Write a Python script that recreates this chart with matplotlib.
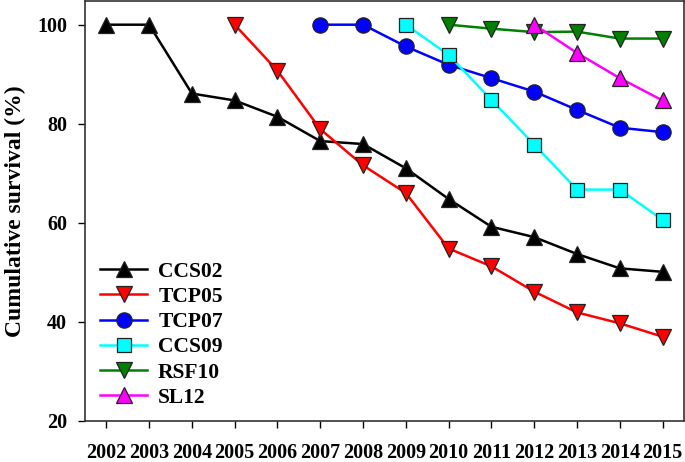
import numpy as np
import matplotlib.pyplot as plt

plt.rcParams['font.family'] = ['Liberation Serif', 'DejaVu Serif']
plt.rcParams['font.weight'] = 'bold'

# survival series (year, cumulative survival %)
years_ccs02 = [2002, 2003, 2004, 2005, 2006, 2007, 2008, 2009, 2010, 2011, 2012, 2013, 2014, 2015]
ccs02 = [100, 100, 86.1, 84.7, 81.4, 76.5, 75.9, 71.0, 64.8, 59.2, 57.1, 53.7, 50.8, 50.1]

years_tcp05 = [2005, 2006, 2007, 2008, 2009, 2010, 2011, 2012, 2013, 2014, 2015]
tcp05 = [100, 90.7, 78.9, 71.6, 66.0, 54.8, 51.2, 46.1, 41.9, 39.7, 37.0]

years_tcp07 = [2007, 2008, 2009, 2010, 2011, 2012, 2013, 2014, 2015]
tcp07 = [100, 100, 95.6, 91.9, 89.2, 86.5, 82.8, 79.2, 78.3]

years_ccs09 = [2009, 2010, 2011, 2012, 2013, 2014, 2015]
ccs09 = [100, 93.9, 84.8, 75.8, 66.7, 66.7, 60.6]

years_rsf10 = [2010, 2011, 2012, 2013, 2014, 2015]
rsf10 = [100, 99.2, 98.5, 98.6, 97.2, 97.2]

years_sl12 = [2012, 2013, 2014, 2015]
sl12 = [100, 94.3, 89.2, 84.7]

xticks = list(range(2002, 2016))
yticks = [20, 40, 60, 80, 100]

fig = plt.figure(figsize=(6.85, 4.62), dpi=100)
ax = fig.add_axes([0.124, 0.089, 0.8745, 0.909])

series = [
    (years_ccs02, ccs02, 'CCS02', 'black', '^', 11.5),
    (years_tcp05, tcp05, 'TCP05', 'red', 'v', 11.5),
    (years_tcp07, tcp07, 'TCP07', 'blue', 'o', 11),
    (years_ccs09, ccs09, 'CCS09', 'cyan', 's', 9.5),
    (years_rsf10, rsf10, 'RSF10', 'green', 'v', 11.5),
    (years_sl12, sl12, 'SL12', 'magenta', '^', 11.5),
]
for xs, ys, name, col, mk, ms in series:
    ax.plot(xs, ys, color=col, lw=1.8, marker=mk, ms=ms, mfc=col,
            mec='#222222', mew=0.9, label=name)

ax.set_xlim(2001.5, 2015.5)
ax.set_ylim(20, 104.8)
ax.set_xticks(xticks)
ax.set_xticklabels([str(y) for y in xticks], fontsize=14.5, fontweight='bold')
ax.set_yticks(yticks)
ax.set_yticklabels([str(v) for v in yticks], fontsize=14.5, fontweight='bold')
ax.tick_params(direction='out', length=5, width=1, pad=8)
ax.tick_params(axis='x', pad=11)
ax.set_ylabel('Cumulative survival (%)', fontsize=17, fontweight='bold', labelpad=8)
for sp in ax.spines.values():
    sp.set_linewidth(1.2)
    sp.set_color('#333333')

leg = ax.legend(loc='lower left', bbox_to_anchor=(0.0, -0.005), frameon=False,
                prop={'size': 15.5, 'weight': 'bold'}, handlelength=2.2,
                handletextpad=0.5, labelspacing=0.24, borderaxespad=0.3)

fig.savefig('out.png', dpi=100)
